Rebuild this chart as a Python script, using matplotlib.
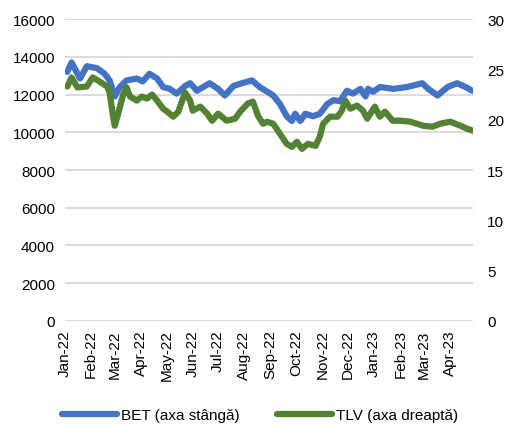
import pandas as pd
import matplotlib
matplotlib.use('Agg')
import matplotlib.pyplot as plt
import matplotlib.dates as mdates

plt.rcParams['font.family'] = ['Liberation Sans', 'DejaVu Sans']

# BET (axa stanga)
bet_dates = ['2022-01-04', '2022-01-09', '2022-01-19', '2022-01-27', '2022-02-08',
             '2022-02-17', '2022-02-23', '2022-03-01', '2022-03-07', '2022-03-15',
             '2022-03-27', '2022-04-03', '2022-04-11', '2022-04-20', '2022-04-27',
             '2022-05-05', '2022-05-13', '2022-05-23', '2022-05-29', '2022-06-06',
             '2022-06-21', '2022-07-01', '2022-07-09', '2022-07-19', '2022-07-29',
             '2022-08-10', '2022-08-19', '2022-08-28', '2022-09-04', '2022-09-12',
             '2022-09-20', '2022-09-26', '2022-09-30', '2022-10-06', '2022-10-12',
             '2022-10-21', '2022-10-29', '2022-11-07', '2022-11-14', '2022-11-22',
             '2022-11-30', '2022-12-07', '2022-12-16', '2022-12-22', '2022-12-25',
             '2022-12-31', '2023-01-08', '2023-01-24', '2023-02-09', '2023-02-27',
             '2023-03-06', '2023-03-17', '2023-03-29', '2023-04-09', '2023-04-19',
             '2023-04-27']
bet_values = [13200, 13700, 12850, 13500, 13400,
              13100, 12750, 11900, 12400, 12750,
              12850, 12700, 13100, 12850, 12400,
              12300, 12050, 12450, 12600, 12200,
              12600, 12300, 11950, 12450, 12600,
              12750, 12400, 12150, 11950, 11500,
              10850, 10600, 10980, 10600, 10980,
              10850, 10980, 11500, 11700, 11650,
              12200, 12050, 12300, 11900, 12300,
              12150, 12400, 12300, 12400, 12600,
              12300, 11950, 12400, 12600, 12400,
              12200]

# TLV (axa dreapta)
tlv_dates = ['2022-01-04', '2022-01-09', '2022-01-16', '2022-01-27', '2022-02-03',
             '2022-02-11', '2022-02-20', '2022-02-23', '2022-02-27', '2022-03-01',
             '2022-03-05', '2022-03-11', '2022-03-15', '2022-03-19', '2022-03-27',
             '2022-04-02', '2022-04-08', '2022-04-14', '2022-04-20', '2022-04-27',
             '2022-05-02', '2022-05-09', '2022-05-15', '2022-05-23', '2022-05-29',
             '2022-06-01', '2022-06-10', '2022-06-18', '2022-06-24', '2022-07-01',
             '2022-07-11', '2022-07-21', '2022-07-27', '2022-08-05', '2022-08-11',
             '2022-08-17', '2022-08-23', '2022-08-28', '2022-09-04', '2022-09-12',
             '2022-09-20', '2022-09-26', '2022-10-02', '2022-10-08', '2022-10-15',
             '2022-10-24', '2022-10-29', '2022-11-02', '2022-11-10', '2022-11-19',
             '2022-11-24', '2022-11-28', '2022-12-04', '2022-12-12', '2022-12-19',
             '2022-12-24', '2023-01-02', '2023-01-08', '2023-01-14', '2023-01-23',
             '2023-02-01', '2023-02-13', '2023-02-28', '2023-03-11', '2023-03-20',
             '2023-04-01', '2023-04-13', '2023-04-21', '2023-04-28']
tlv_values = [23.3, 24.2, 23.2, 23.3, 24.2,
              23.8, 23.3, 22.7, 20.3, 19.4,
              20.6, 22.5, 23.2, 22.3, 21.9,
              22.3, 22.1, 22.5, 21.9, 21.1,
              20.8, 20.3, 20.8, 22.7, 21.9,
              20.9, 21.3, 20.6, 19.9, 20.6,
              19.9, 20.1, 20.8, 21.6, 21.8,
              20.4, 19.6, 19.8, 19.6, 18.6,
              17.6, 17.3, 17.8, 17.1, 17.6,
              17.4, 18.3, 19.6, 20.3, 20.3,
              20.9, 21.9, 21.1, 21.4, 20.9,
              20.1, 21.3, 20.3, 20.8, 19.9,
              19.9, 19.8, 19.4, 19.3, 19.6,
              19.8, 19.4, 19.1, 18.9]

bet = pd.Series(bet_values, index=pd.to_datetime(bet_dates))
tlv = pd.Series(tlv_values, index=pd.to_datetime(tlv_dates))

fig = plt.figure(figsize=(5.06, 4.27), dpi=100)
ax = fig.add_axes([0.128, 0.246, 0.807, 0.707])
ax2 = ax.twinx()

ax.plot(bet.index, bet.values, color='#4472C4', lw=4.5,
        solid_joinstyle='round', solid_capstyle='round', label='BET (axa stângă)')
ax2.plot(tlv.index, tlv.values, color='#548235', lw=4.5,
         solid_joinstyle='round', solid_capstyle='round', label='TLV (axa dreaptă)')

ax.set_ylim(0, 16000)
ax.set_yticks(range(0, 16001, 2000))
ax2.set_ylim(0, 30)
ax2.set_yticks(range(0, 31, 5))
ax.set_xlim(pd.Timestamp('2022-01-01'), pd.Timestamp('2023-04-28'))
ax.xaxis.set_major_locator(mdates.MonthLocator())
ax.xaxis.set_major_formatter(mdates.DateFormatter('%b-%y'))

ax.grid(axis='y', color='#D9D9D9', lw=1.3)
ax.set_axisbelow(True)
for a in (ax, ax2):
    for s in a.spines.values():
        s.set_visible(False)
ax.tick_params(axis='y', length=0, pad=7, labelsize=11)
ax.tick_params(axis='x', length=0, pad=6, labelsize=11, labelrotation=90)
ax2.tick_params(axis='y', length=0, pad=10, labelsize=11)

h1, l1 = ax.get_legend_handles_labels()
h2, l2 = ax2.get_legend_handles_labels()
fig.legend(h1 + h2, l1 + l2, loc='center', bbox_to_anchor=(0.514, 0.026),
           ncol=2, frameon=False, fontsize=11, handlelength=3.6,
           handletextpad=0.3, columnspacing=2.4)

fig.savefig('out.png', dpi=100)
